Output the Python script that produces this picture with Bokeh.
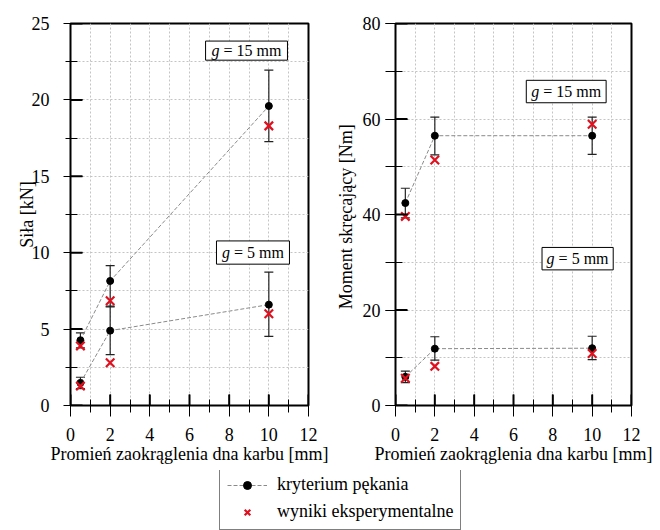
from bokeh.plotting import figure
from bokeh.models import (Range1d, SingleIntervalTicker, ColumnDataSource, Whisker, TeeHead,
                          BoxAnnotation, Label, Legend, LegendItem)
from bokeh.layouts import column, row
from bokeh.embed import file_html
from bokeh.resources import INLINE

# ---------------- data ----------------
radius_mm = [0.5, 2, 10]
radius_ticks = [0.0, 2.0, 4.0, 6.0, 8.0, 10.0, 12.0]

# panel a) force [kN]
force_ticks = [0.0, 5.0, 10.0, 15.0, 20.0, 25.0]
force_g15_crit = [4.27, 8.15, 19.6]
force_g15_lo = [3.77, 6.45, 17.27]
force_g15_hi = [4.75, 9.15, 21.95]
force_g15_exp = [3.9, 6.85, 18.3]

force_g5_crit = [1.48, 4.9, 6.6]
force_g5_lo = [1.1, 3.33, 4.53]
force_g5_hi = [1.85, 6.5, 8.73]
force_g5_exp = [1.27, 2.8, 6.0]

# panel b) torque [Nm]
torque_ticks = [0.0, 20.0, 40.0, 60.0, 80.0]
torque_g15_crit = [42.4, 56.5, 56.5]
torque_g15_lo = [39.3, 52.5, 52.6]
torque_g15_hi = [45.5, 60.4, 60.4]
torque_g15_exp = [39.6, 51.4, 58.9]

torque_g5_crit = [6.0, 11.9, 12.0]
torque_g5_lo = [4.8, 9.5, 9.6]
torque_g5_hi = [7.2, 14.4, 14.5]
torque_g5_exp = [5.7, 8.2, 10.9]

x_label = "Promień zaokrąglenia dna karbu [mm]"
y_label_a = "Siła [kN]"
y_label_b = "Moment skręcający  [Nm]"
legend_crit = "kryterium pękania"
legend_exp = "wyniki eksperymentalne"

FONT = "Liberation Serif"
RED = "#e0101e"
FH = 382


def major_ticks(p, values, dim, t_out, t_in, px_per_unit):
    src = ColumnDataSource(dict(b=values))
    w = Whisker(source=src, base="b", lower=-t_out / px_per_unit, upper=t_in / px_per_unit,
                dimension=dim, line_color="black", line_width=2,
                lower_head=None, upper_head=None)
    w.level = "overlay"
    p.add_layout(w)


def make_panel(width, height, borders, ymax, ymajor, yticks, ytick, xstd, ylab, ystd, series):
    left, right, top, bottom = borders
    fw = width - left - right
    p = figure(width=width, height=height, output_backend="svg", toolbar_location=None,
               x_range=Range1d(0, 12), y_range=Range1d(0, ymax),
               min_border_left=left, min_border_right=right,
               min_border_top=top, min_border_bottom=bottom)
    p.outline_line_color = "black"
    p.outline_line_width = 2
    p.background_fill_color = "white"
    p.border_fill_color = "white"

    xax = p.xaxis[0]
    yax = p.yaxis[0]
    xax.ticker = SingleIntervalTicker(interval=2, num_minor_ticks=2)
    yax.ticker = SingleIntervalTicker(interval=ymajor, num_minor_ticks=2)
    for ax in (xax, yax):
        ax.axis_line_color = "black"
        ax.axis_line_width = 1
        ax.major_tick_line_color = "black"
        ax.minor_tick_line_color = "black"
        ax.major_tick_line_width = 1
        ax.minor_tick_line_width = 1
        ax.major_label_text_font = FONT
        ax.major_label_text_font_size = "18px"
        ax.major_label_text_color = "black"
        ax.axis_label_text_font = FONT
        ax.axis_label_text_font_size = "18px"
        ax.axis_label_text_font_style = "normal"
        ax.axis_label_text_color = "black"

    xax.axis_label = x_label
    xax.major_tick_in = 11
    xax.major_tick_out = 11
    xax.minor_tick_in = 6
    xax.minor_tick_out = 7
    xax.major_label_standoff = xstd[0]
    xax.axis_label_standoff = xstd[1]
    yax.axis_label = ylab
    yax.major_tick_in = 12
    yax.major_tick_out = ytick[0]
    yax.minor_tick_in = 7
    yax.minor_tick_out = ytick[1]
    yax.major_label_standoff = ystd[0]
    yax.axis_label_standoff = ystd[1]

    p.xgrid.ticker = SingleIntervalTicker(interval=1)
    p.ygrid.ticker = SingleIntervalTicker(interval=ymajor / 2)
    p.grid.grid_line_color = "#c4c4c4"
    p.grid.grid_line_dash = "2 2"
    p.grid.grid_line_width = 1

    major_ticks(p, radius_ticks, "height", 11, 11, FH / ymax)
    major_ticks(p, yticks, "width", ytick[0], 12, fw / 12)

    for crit, lo, hi, exp in series:
        src = ColumnDataSource(dict(x=radius_mm, y=crit, lo=lo, hi=hi, e=exp))
        p.line("x", "y", source=src, line_color="#8a8a8a", line_width=1, line_dash="4 2")
        w = Whisker(source=src, base="x", upper="hi", lower="lo", line_color="#222222",
                    line_width=1.2,
                    upper_head=TeeHead(size=9, line_color="#222222", line_width=1.2),
                    lower_head=TeeHead(size=9, line_color="#222222", line_width=1.2))
        w.level = "underlay"
        p.add_layout(w)
        p.scatter("x", "y", source=src, marker="circle", size=7, color="black")
        p.scatter("x", "e", source=src, marker="x", size=12, line_color=RED, line_width=2.2)
    return p


def g_box(p, l, r, b, t, num):
    p.add_layout(BoxAnnotation(left=l, right=r, bottom=b, top=t, fill_color="white",
                               fill_alpha=1, line_color="black", line_width=1,
                               line_alpha=1))
    cx, cy = (l + r) / 2, (b + t) / 2
    rest = "= %s mm" % num
    half = 35 if len(num) == 2 else 31
    p.add_layout(Label(x=cx, y=cy, x_offset=-half, text="g", text_font=FONT,
                       text_font_style="italic", text_font_size="16px",
                       text_align="left", text_baseline="middle", text_color="black"))
    p.add_layout(Label(x=cx, y=cy, x_offset=-half + 12, text=rest, text_font=FONT,
                       text_font_size="16px", text_align="left", text_baseline="middle",
                       text_color="black"))


PH = 470
TOP = 23
pa = make_panel(330, PH, (70, 22, TOP, PH - TOP - FH), 25, 5, force_ticks, (7, 5), (11, 0),
                y_label_a, (14, -8),
                [(force_g15_crit, force_g15_lo, force_g15_hi, force_g15_exp),
                 (force_g5_crit, force_g5_lo, force_g5_hi, force_g5_exp)])
g_box(pa, 6.81, 10.94, 22.6, 23.85, "15")
g_box(pa, 7.36, 11.04, 9.25, 10.77, "5")
pa.add_layout(Label(x=-53, y=FH + 10, x_units="screen", y_units="screen", text="a)",
                    text_font=FONT, text_font_size="16px", text_baseline="top",
                    text_align="left", text_color="black"))

pb = make_panel(330, PH, (65, 29, TOP, PH - TOP - FH), 80, 20, torque_ticks, (10, 10), (11, 0),
                y_label_b, (5, 4),
                [(torque_g15_crit, torque_g15_lo, torque_g15_hi, torque_g15_exp),
                 (torque_g5_crit, torque_g5_lo, torque_g5_hi, torque_g5_exp)])
g_box(pb, 6.65, 10.71, 63.4, 68.1, "15")
g_box(pb, 7.45, 11.07, 28.4, 33.1, "5")
pb.add_layout(Label(x=-60, y=FH + 12, x_units="screen", y_units="screen", text="b)",
                    text_font=FONT, text_font_size="16px", text_baseline="top",
                    text_align="left", text_color="black"))

# legend figure (its renderers hold the data but lie outside the visible range)
LH = 530 - PH
pl = figure(width=660, height=LH, output_backend="svg", toolbar_location=None,
            x_range=Range1d(100, 101), y_range=Range1d(100, 101),
            x_axis_type=None, y_axis_type=None, min_border=0)
pl.outline_line_color = None
pl.grid.visible = False
lsrc = ColumnDataSource(dict(x=radius_mm, y=force_g15_crit, e=force_g15_exp))
lr = pl.line("x", "y", source=lsrc, line_color="#8a8a8a", line_width=1, line_dash="4 2")
sr = pl.scatter("x", "y", source=lsrc, marker="circle", size=7, color="black")
xr = pl.scatter("x", "e", source=lsrc, marker="x", size=12, line_color=RED, line_width=2.2)
leg = Legend(items=[LegendItem(label=legend_crit, renderers=[lr, sr]),
                    LegendItem(label=legend_exp, renderers=[xr])],
             location=(219, 0), border_line_color="black", border_line_width=1,
             background_fill_color="white", background_fill_alpha=1,
             label_text_font=FONT, label_text_font_size="18px", label_text_color="black",
             glyph_width=40, glyph_height=20, label_height=20, label_standoff=10,
             padding=7, spacing=6, margin=0)
pl.add_layout(leg)

layout = column(row(pa, pb), pl)
open("out.html", "w").write(file_html(layout, INLINE))
